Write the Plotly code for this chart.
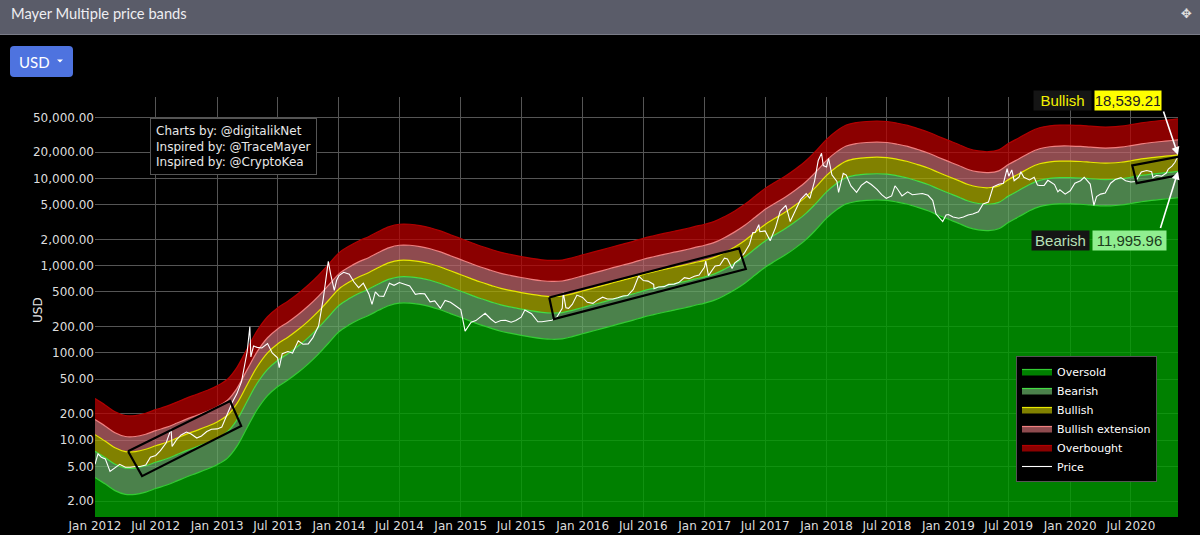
import math
import plotly.graph_objects as go

# ---------------- data ----------------
ma_dates = [
    "2012-01-01","2012-02-01","2012-03-01","2012-04-01","2012-05-01","2012-06-01","2012-07-01","2012-08-01",
    "2012-09-01","2012-10-01","2012-11-01","2012-12-01",
    "2013-01-01","2013-02-01","2013-03-01","2013-04-01","2013-05-01","2013-06-01","2013-07-01","2013-08-01",
    "2013-09-01","2013-10-01","2013-11-01","2013-12-01",
    "2014-01-01","2014-02-01","2014-03-01","2014-04-01","2014-05-01","2014-06-01","2014-07-01","2014-08-01",
    "2014-09-01","2014-10-01","2014-11-01","2014-12-01",
    "2015-01-01","2015-02-01","2015-03-01","2015-04-01","2015-05-01","2015-06-01","2015-07-01","2015-08-01",
    "2015-09-01","2015-10-01","2015-11-01","2015-12-01",
    "2016-01-01","2016-02-01","2016-03-01","2016-04-01","2016-05-01","2016-06-01","2016-07-01","2016-08-01",
    "2016-09-01","2016-10-01","2016-11-01","2016-12-01",
    "2017-01-01","2017-02-01","2017-03-01","2017-04-01","2017-05-01","2017-06-01","2017-07-01","2017-08-01",
    "2017-09-01","2017-10-01","2017-11-01","2017-12-01",
    "2018-01-01","2018-02-01","2018-03-01","2018-04-01","2018-05-01","2018-06-01","2018-07-01","2018-08-01",
    "2018-09-01","2018-10-01","2018-11-01","2018-12-01",
    "2019-01-01","2019-02-01","2019-03-01","2019-04-01","2019-05-01","2019-06-01","2019-07-01","2019-08-01",
    "2019-09-01","2019-10-01","2019-11-01","2019-12-01",
    "2020-01-01","2020-02-01","2020-03-01","2020-04-01","2020-05-01","2020-06-01","2020-07-01","2020-08-01",
    "2020-09-01","2020-10-01","2020-11-01","2020-11-19",
]
ma_values = [
    7.5, 6.3, 5.3, 4.8, 4.8, 5.1, 5.6, 6.1, 6.8, 7.6, 8.4, 9.3,
    10.5, 12.5, 17, 28, 45, 65, 82, 98, 120, 150, 195, 260,
    350, 420, 480, 540, 620, 700, 745, 745, 720, 680, 625, 565,
    510, 460, 420, 385, 355, 335, 318, 303, 292, 287, 290, 308,
    332, 357, 382, 412, 442, 475, 515, 550, 585, 620, 655, 700,
    745, 810, 910, 1060, 1260, 1560, 1920, 2270, 2680, 3220, 4000, 5200,
    7000, 8800, 10200, 10900, 11200, 11300, 11200, 10700, 10100, 9300, 8500, 7600,
    6800, 6100, 5500, 5150, 5050, 5300, 6300, 7300, 8500, 9500, 10000, 10200,
    10200, 10100, 9900, 9700, 9700, 9900, 10300, 10800, 11200, 11500, 11800, 11995.96,
]

band_names = ["Oversold", "Bearish", "Bullish", "Bullish extension", "Overbought"]
band_multiples = [0.5, 1.0, 1.5455, 2.3, 4.0]

price_dates = [
    "2012-01-01","2012-01-10","2012-01-20","2012-02-01","2012-02-15","2012-03-01","2012-03-15","2012-04-01",
    "2012-04-15","2012-05-01","2012-05-15","2012-06-01","2012-06-15","2012-07-01","2012-07-15","2012-08-01",
    "2012-08-16","2012-08-19","2012-09-01","2012-09-15","2012-10-01","2012-10-15","2012-11-01","2012-11-15",
    "2012-12-01","2012-12-15",
    "2013-01-01","2013-01-15","2013-02-01","2013-02-15","2013-03-01","2013-03-15","2013-04-01","2013-04-09",
    "2013-04-12","2013-04-20","2013-05-01","2013-05-15","2013-06-01","2013-06-15","2013-07-01","2013-07-06",
    "2013-07-15","2013-08-01","2013-08-15","2013-09-01","2013-09-15","2013-10-01","2013-10-15","2013-11-01",
    "2013-11-15","2013-11-30","2013-12-07","2013-12-18","2013-12-25",
    "2014-01-01","2014-01-15","2014-02-01","2014-02-15","2014-03-01","2014-03-15","2014-04-01","2014-04-10",
    "2014-04-20","2014-05-01","2014-05-15","2014-06-01","2014-06-15","2014-07-01","2014-07-15","2014-08-01",
    "2014-08-18","2014-09-01","2014-09-15","2014-10-01","2014-10-15","2014-11-01","2014-11-15","2014-12-01",
    "2014-12-15",
    "2015-01-01","2015-01-14","2015-02-01","2015-02-15","2015-03-01","2015-03-15","2015-04-01","2015-04-15",
    "2015-05-01","2015-05-15","2015-06-01","2015-06-15","2015-07-01","2015-07-12","2015-08-01","2015-08-20",
    "2015-09-01","2015-09-15","2015-10-01","2015-10-15","2015-11-01","2015-11-04","2015-11-12","2015-11-20",
    "2015-12-01","2015-12-15",
    "2016-01-01","2016-01-15","2016-02-01","2016-02-15","2016-03-01","2016-03-15","2016-04-01","2016-04-15",
    "2016-05-01","2016-05-15","2016-06-01","2016-06-17","2016-07-01","2016-07-15","2016-08-01","2016-08-02",
    "2016-08-15","2016-09-01","2016-09-15","2016-10-01","2016-10-15","2016-11-01","2016-11-15","2016-12-01",
    "2016-12-15","2016-12-31",
    "2017-01-04","2017-01-12","2017-02-01","2017-02-15","2017-03-01","2017-03-10","2017-03-24","2017-04-01",
    "2017-04-15","2017-05-01","2017-05-15","2017-05-25","2017-06-01","2017-06-12","2017-06-15","2017-07-01",
    "2017-07-16","2017-08-01","2017-08-15","2017-09-01","2017-09-14","2017-10-01","2017-10-15","2017-11-01",
    "2017-11-12","2017-11-26","2017-12-07","2017-12-17","2017-12-22",
    "2018-01-01","2018-01-07","2018-01-17","2018-02-01","2018-02-06","2018-02-20","2018-03-01","2018-03-15",
    "2018-04-01","2018-04-15","2018-05-01","2018-05-15","2018-06-01","2018-06-15","2018-06-29","2018-07-15",
    "2018-07-25","2018-08-01","2018-08-15","2018-09-01","2018-09-15","2018-10-01","2018-10-15","2018-11-01",
    "2018-11-15","2018-11-25","2018-12-15","2018-12-25",
    "2019-01-01","2019-01-15","2019-02-01","2019-02-15","2019-03-01","2019-03-15","2019-04-01","2019-04-15",
    "2019-05-01","2019-05-15","2019-06-01","2019-06-15","2019-06-26","2019-07-01","2019-07-10","2019-07-17",
    "2019-08-01","2019-08-06","2019-08-15","2019-09-01","2019-09-15","2019-09-25","2019-10-01","2019-10-15",
    "2019-10-26","2019-11-01","2019-11-15","2019-11-25","2019-12-01","2019-12-17",
    "2020-01-01","2020-01-15","2020-02-01","2020-02-12","2020-03-01","2020-03-12","2020-03-20","2020-04-01",
    "2020-04-15","2020-05-01","2020-05-15","2020-06-01","2020-06-15","2020-07-01","2020-07-15","2020-07-27",
    "2020-08-01","2020-08-17","2020-09-01","2020-09-05","2020-09-15","2020-10-01","2020-10-15","2020-10-21",
    "2020-11-01","2020-11-10","2020-11-19",
]
price_values = [
    5.3, 7.0, 6.4, 6.1, 4.4, 4.9, 5.3, 4.9, 4.9, 5.0, 5.0, 5.2, 6.4, 6.7, 7.6, 9.3,
    13.5, 8.5, 10.1, 11.5, 12.4, 11.8, 10.6, 11.2, 12.6, 13.4,
    13.5, 14.2, 20.4, 27, 34, 47, 104, 200, 90, 120, 116, 114, 128, 100, 88, 68,
    98, 104, 100, 138, 126, 127, 150, 205, 420, 1120, 800, 520, 680,
    770, 840, 800, 650, 560, 630, 470, 360, 500, 450, 445, 630, 595, 640, 620, 585,
    470, 480, 475, 385, 395, 325, 400, 380, 350,
    315, 178, 225, 235, 260, 285, 245, 222, 235, 237, 225, 235, 257, 310, 282, 228,
    228, 230, 237, 254, 325, 490, 330, 325, 360, 460,
    433, 380, 370, 405, 435, 415, 415, 430, 450, 455, 535, 760, 675, 665, 610, 545,
    570, 575, 610, 615, 640, 730, 710, 755, 780, 960,
    1130, 770, 990, 1010, 1220, 1190, 930, 1080, 1180, 1420, 1750, 2400, 2400, 2950, 2450, 2500,
    1930, 2730, 4200, 4900, 3200, 4400, 5700, 6700, 5900, 9300, 16000, 19400, 14000,
    13500, 17000, 11000, 9200, 6900, 11400, 10900, 8200, 6900, 8300, 9200, 8500, 7500, 6500, 5900, 6300,
    8200, 7600, 6300, 7000, 6500, 6600, 6700, 6400, 5600, 3900, 3200, 3800,
    3850, 3600, 3500, 3600, 3800, 3900, 4150, 5100, 5350, 8000, 8550, 8800, 12900, 10600, 12500, 9400,
    10400, 11900, 10300, 9600, 10300, 8400, 8300, 8300, 9500, 9200, 8500, 7000, 7400, 6600,
    7200, 8800, 9400, 10300, 8600, 4900, 6200, 6600, 6800, 8800, 9700, 10200, 9400, 9100, 9200, 11000,
    11800, 12300, 11900, 10200, 10800, 10600, 11500, 12800, 13800, 15300, 18000,
]

# highlighted trend channels (date, USD) corners
box1_dates = ["2012-04-09", "2013-02-09", "2013-03-14", "2012-05-21", "2012-04-09"]
box1_values = [7.5, 28.2, 14.6, 3.88, 7.5]
box2_dates = ["2015-09-23", "2017-04-14", "2017-05-04", "2015-10-07", "2015-09-23"]
box2_values = [432, 1578, 916, 244, 432]
box3_dates = ["2020-12-25", "2020-07-05", "2020-07-18", "2020-12-25"]
box3_values = [18700, 14060, 8810, 11480]

y_tick_values = [2, 5, 10, 20, 50, 100, 200, 500, 1000, 2000, 5000, 10000, 20000, 50000]
bullish_label = "18,539.21"
bearish_label = "11,995.96"
bullish_value = 18539.21
bearish_value = 11995.96
end_date = "2020-11-19"

# ---------------- styles ----------------
fill_colors = ["rgba(0,160,0,0.8)", "rgba(100,172,100,0.75)", "rgba(172,172,0,0.75)",
               "rgba(190,100,106,0.75)", "rgba(186,0,0,0.75)"]
line_colors = ["#33cc33", "#44dd44", "#e8e800", "#f08080", "#b00000"]
FONT = "DejaVu Sans"

fig = go.Figure()
for i, (name, mult) in enumerate(zip(band_names, band_multiples)):
    fig.add_trace(go.Scatter(
        x=ma_dates, y=[v * mult for v in ma_values], name=name, mode="lines",
        line=dict(color=line_colors[i], width=1.2, shape="spline", smoothing=1.0),
        fill="tozeroy" if i == 0 else "tonexty", fillcolor=fill_colors[i],
        hoverinfo="skip",
    ))
fig.add_trace(go.Scatter(x=price_dates, y=price_values, name="Price", mode="lines",
                         line=dict(color="white", width=1.1)))
for bd, bv in [(box1_dates, box1_values), (box2_dates, box2_values), (box3_dates, box3_values)]:
    fig.add_trace(go.Scatter(x=bd, y=bv, mode="lines", showlegend=False, hoverinfo="skip",
                             line=dict(color="black", width=2.2)))

L, R, T, B = 95, 22, 97, 18
W, H = 1200, 535
pw, ph = W - L - R, H - T - B
def px(xp):
    return (xp - L) / pw
def py(yp):
    return (H - B - yp) / ph

shapes = [
    # title bar
    dict(type="rect", xref="paper", yref="paper", x0=px(-2), x1=px(W + 2), y0=py(34), y1=py(-2),
         fillcolor="#5a5c69", line=dict(width=0), layer="above"),
    dict(type="line", xref="paper", yref="paper", x0=px(-2), x1=px(W + 2), y0=py(34.5), y1=py(34.5),
         line=dict(color="#7a7c88", width=1), layer="above"),
    # USD button
    dict(type="path", xref="paper", yref="paper",
         path=("M {a},{b} L {c},{b} Q {d},{b} {d},{e} L {d},{f} Q {d},{g} {c},{g} "
               "L {a},{g} Q {h},{g} {h},{f} L {h},{e} Q {h},{b} {a},{b} Z").format(
             a=px(14), b=py(46), c=px(69), d=px(73), e=py(50), f=py(73), g=py(77), h=px(10)),
         fillcolor="#4e73df", line=dict(width=0), layer="above"),
    dict(type="path", xref="paper", yref="paper",
         path="M {0},{1} L {2},{1} L {3},{4} Z".format(px(57), py(59.5), px(63), px(60), py(62.5)),
         fillcolor="white", line=dict(width=0), layer="above"),
]

annotations = [
    dict(text="Mayer Multiple price bands", xref="paper", yref="paper", x=px(9), y=py(13),
         xanchor="left", yanchor="middle", showarrow=False,
         font=dict(family="Lato", size=14.7, color="#eeeef2")),
    dict(text="✥", xref="paper", yref="paper", x=px(1186), y=py(13),
         xanchor="center", yanchor="middle", showarrow=False,
         font=dict(family=FONT, size=13, color="#e0e0e0")),
    dict(text="USD", xref="paper", yref="paper", x=px(34.5), y=py(61.5),
         xanchor="center", yanchor="middle", showarrow=False,
         font=dict(family="Lato", size=15, color="white")),
    dict(text="Charts by: @digitalikNet<br>Inspired by: @TraceMayer<br>Inspired by: @CryptoKea",
         xref="paper", yref="paper", x=px(150), y=py(118), xanchor="left", yanchor="top",
         align="left", showarrow=False, bgcolor="black", bordercolor="#555555", borderwidth=1,
         borderpad=5, font=dict(family=FONT, size=12, color="#e8e8e8")),
    dict(text="USD", xref="paper", yref="paper", x=px(38), y=py(310), textangle=-90,
         xanchor="center", yanchor="middle", showarrow=False,
         font=dict(family=FONT, size=12, color="#e8e8e8")),
    # arrows
    dict(x=end_date, y=math.log10(bullish_value), xref="x", yref="y", text="", showarrow=True,
         ax=-15, ay=-45, arrowcolor="white", arrowwidth=1.6, arrowhead=2, arrowsize=1),
    dict(x=end_date, y=math.log10(bearish_value), xref="x", yref="y", text="", showarrow=True,
         ax=-18, ay=58, arrowcolor="white", arrowwidth=1.6, arrowhead=2, arrowsize=1),
    # labels
    dict(text="Bullish", xref="paper", yref="paper", x=px(1092), y=py(101), xanchor="right",
         yanchor="middle", showarrow=False, bgcolor="#151515", borderpad=1, width=55,
         font=dict(family="Liberation Sans", size=15, color="#f2f200")),
    dict(text=bullish_label, xref="paper", yref="paper", x=px(1094), y=py(101), xanchor="left",
         yanchor="middle", showarrow=False, bgcolor="#ffff00", borderpad=1, width=64,
         font=dict(family="Liberation Sans", size=15, color="#222222")),
    dict(text="Bearish", xref="paper", yref="paper", x=px(1090), y=py(240), xanchor="right",
         yanchor="middle", showarrow=False, bgcolor="#151515", borderpad=1, width=55,
         font=dict(family="Liberation Sans", size=15, color="#b8e0b8")),
    dict(text=bearish_label, xref="paper", yref="paper", x=px(1092), y=py(240), xanchor="left",
         yanchor="middle", showarrow=False, bgcolor="#90ee90", borderpad=1, width=71,
         font=dict(family="Liberation Sans", size=15, color="#1c3a1c")),
]

fig.update_layout(
    width=W, height=H,
    margin=dict(l=L, r=R, t=T, b=B, pad=0),
    paper_bgcolor="black", plot_bgcolor="black",
    font=dict(family=FONT, size=12, color="#dddddd"),
    showlegend=True,
    legend=dict(x=px(1016), y=py(356), xanchor="left", yanchor="top", bgcolor="black",
                bordercolor="#555555", borderwidth=1, font=dict(family=FONT, size=11, color="white"),
                traceorder="normal", itemwidth=30),
    shapes=shapes, annotations=annotations,
    xaxis=dict(type="date", range=["2012-01-01", end_date], dtick="M6", tick0="2012-01-01",
               tickformat="%b %Y", showgrid=True, gridcolor="#555555", gridwidth=1, automargin=False,
               zeroline=False, showline=False, ticks="", tickfont=dict(size=12, color="#dddddd")),
    yaxis=dict(type="log", range=[0.121, 4.932], tickvals=y_tick_values, tickformat=",.2f",
               showgrid=True, gridcolor="#555555", gridwidth=1, zeroline=False, showline=False,
               automargin=False, ticks="", tickfont=dict(size=12, color="#dddddd")),
)

fig.write_html(
    "out.html",
    config={"displayModeBar": False},
    post_script="document.body.style.margin='0';document.body.style.background='black';"
                "document.documentElement.style.overflow='hidden';",
)
